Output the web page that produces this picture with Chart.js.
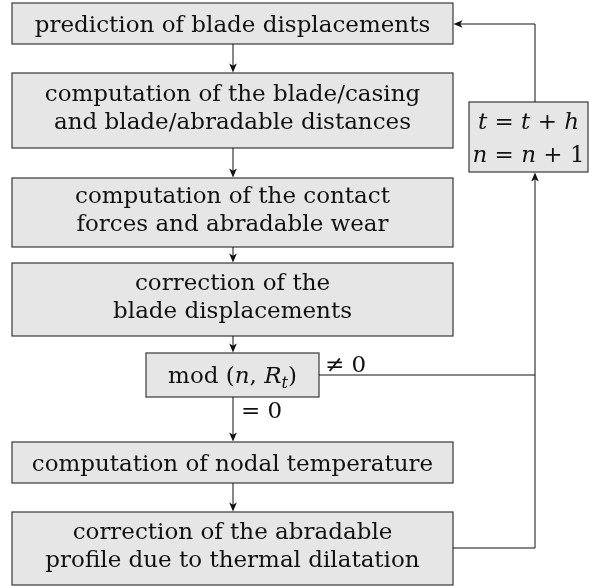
<!DOCTYPE html>
<html>
<head>
<meta charset="utf-8">
<script src="https://cdn.jsdelivr.net/npm/chart.js@4.4.0/dist/chart.umd.min.js"></script>
<style>
  html, body { margin: 0; padding: 0; background: #fff; }
  canvas { display: block; }
</style>
</head>
<body>
<canvas id="flow" width="592" height="586"></canvas>
<script>
// Step texts of the main column (top to bottom)
const stepLines = [
  ['prediction of blade displacements'],
  ['computation of the blade/casing', 'and blade/abradable distances'],
  ['computation of the contact', 'forces and abradable wear'],
  ['correction of the', 'blade displacements'],
  null, // modulo test, drawn as math
  ['computation of nodal temperature'],
  ['correction of the abradable', 'profile due to thermal dilatation']
];

// Box geometry in chart units (x left/right, y top/bottom)
const boxLeft   = [12, 12, 12, 12, 146, 12, 12];
const boxRight  = [453, 453, 453, 453, 319, 453, 453];
const boxTop    = [3, 73, 178, 263, 353, 442, 512];
const boxBottom = [44, 148, 247, 336, 397, 483, 585];

// Side box (time step update)
const sideBox = { left: 469, right: 588, top: 102, bottom: 172 };
const loopX = 535;
const mainX = 233;

const FONT = '"DejaVu Serif", "Liberation Serif", serif';
const FONT_SIZE = 23;
const LINE_GAP = 28;
const FILL = 'rgb(230,230,230)';
const EDGE = 'rgb(55,55,55)';

// math runs: [text, italic, subscript]
const modRuns = [['mod (', false], ['n', true], [', ', false], ['R', true], ['t', true, true], [')', false]];
const sideRuns1 = [['t', true], [' = ', false], ['t', true], [' + ', false], ['h', true]];
const sideRuns2 = [['n', true], [' = ', false], ['n', true], [' + ', false], ['1', false]];

function runFont(r, size) {
  const s = r[2] ? size * 0.7 : size;
  return (r[1] ? 'italic ' : '') + s + 'px ' + FONT;
}

function drawRuns(ctx, runs, cx, cy, size) {
  let w = 0;
  runs.forEach(r => { ctx.font = runFont(r, size); w += ctx.measureText(r[0]).width; });
  let x = cx - w / 2;
  ctx.textAlign = 'left';
  ctx.textBaseline = 'alphabetic';
  const base = cy + size * 0.35;
  runs.forEach(r => {
    ctx.font = runFont(r, size);
    ctx.fillText(r[0], x, r[2] ? base + size * 0.22 : base);
    x += ctx.measureText(r[0]).width;
  });
}

function arrowHead(ctx, x, y, dir) {
  // dir: 'down', 'up', 'left'
  const L = 9, H = 3.8;
  ctx.beginPath();
  if (dir === 'down') { ctx.moveTo(x, y); ctx.lineTo(x - H, y - L); ctx.lineTo(x, y - L * 0.75); ctx.lineTo(x + H, y - L); }
  if (dir === 'up')   { ctx.moveTo(x, y); ctx.lineTo(x - H, y + L); ctx.lineTo(x, y + L * 0.75); ctx.lineTo(x + H, y + L); }
  if (dir === 'left') { ctx.moveTo(x, y); ctx.lineTo(x + L, y - H); ctx.lineTo(x + L * 0.75, y); ctx.lineTo(x + L, y + H); }
  ctx.closePath();
  ctx.fill();
}

const flowPlugin = {
  id: 'flowPlugin',
  afterDatasetsDraw(chart) {
    const ctx = chart.ctx;
    const sx = v => chart.scales.x.getPixelForValue(v);
    const sy = v => chart.scales.y.getPixelForValue(v);
    ctx.save();

    // boxes
    const drawBox = (l, r, t, b) => {
      ctx.fillStyle = FILL;
      ctx.fillRect(sx(l), sy(t), sx(r) - sx(l), sy(b) - sy(t));
      ctx.strokeStyle = EDGE;
      ctx.lineWidth = 1.2;
      ctx.strokeRect(sx(l), sy(t), sx(r) - sx(l), sy(b) - sy(t));
    };
    stepLines.forEach((lines, i) => drawBox(boxLeft[i], boxRight[i], boxTop[i], boxBottom[i]));
    drawBox(sideBox.left, sideBox.right, sideBox.top, sideBox.bottom);

    // texts
    ctx.fillStyle = '#111';
    stepLines.forEach((lines, i) => {
      const cy = sy((boxTop[i] + boxBottom[i]) / 2);
      const cx = sx((boxLeft[i] + boxRight[i]) / 2);
      if (!lines) { drawRuns(ctx, modRuns, cx, cy, FONT_SIZE); return; }
      ctx.font = FONT_SIZE + 'px ' + FONT;
      ctx.textAlign = 'center';
      ctx.textBaseline = 'alphabetic';
      // multi-line blocks sit a little higher, like the LaTeX struts
      const shift = lines.length > 1 ? 4 : 8.5;
      lines.forEach((s, k) => {
        const off = (k - (lines.length - 1) / 2) * LINE_GAP;
        ctx.fillText(s, cx, cy + off + shift);
      });
    });
    const scx = sx((sideBox.left + sideBox.right) / 2);
    const scy = sy((sideBox.top + sideBox.bottom) / 2);
    drawRuns(ctx, sideRuns1, scx, scy - 16, FONT_SIZE);
    drawRuns(ctx, sideRuns2, scx, scy + 17, FONT_SIZE);

    // vertical arrows in main column
    ctx.strokeStyle = '#111';
    ctx.fillStyle = '#111';
    ctx.lineWidth = 1;
    for (let i = 0; i < stepLines.length - 1; i++) {
      const y0 = sy(boxBottom[i]), y1 = sy(boxTop[i + 1]);
      ctx.beginPath();
      ctx.moveTo(sx(mainX), y0);
      ctx.lineTo(sx(mainX), y1 - 4);
      ctx.stroke();
      arrowHead(ctx, sx(mainX), y1 - 0.5, 'down');
    }

    // loop from last box up to side box
    const lastY = 548;
    ctx.beginPath();
    ctx.moveTo(sx(boxRight[6]), sy(lastY));
    ctx.lineTo(sx(loopX), sy(lastY));
    ctx.lineTo(sx(loopX), sy(sideBox.bottom) + 4);
    ctx.stroke();
    arrowHead(ctx, sx(loopX), sy(sideBox.bottom) + 0.5, 'up');

    // modulo != 0 branch joins the loop line
    const modY = 375;
    ctx.beginPath();
    ctx.moveTo(sx(boxRight[4]), sy(modY));
    ctx.lineTo(sx(loopX), sy(modY));
    ctx.stroke();

    // side box back to first box
    const topY = 24;
    ctx.beginPath();
    ctx.moveTo(sx(loopX), sy(sideBox.top));
    ctx.lineTo(sx(loopX), sy(topY));
    ctx.lineTo(sx(boxRight[0]) + 4, sy(topY));
    ctx.stroke();
    arrowHead(ctx, sx(boxRight[0]) + 0.5, sy(topY), 'left');

    // branch labels
    ctx.font = FONT_SIZE + 'px ' + FONT;
    ctx.textAlign = 'left';
    ctx.textBaseline = 'alphabetic';
    ctx.fillText('\u2260 0', sx(325), sy(372));
    ctx.fillText('= 0', sx(241), sy(418));

    ctx.restore();
  }
};

new Chart(document.getElementById('flow'), {
  type: 'scatter',
  data: {
    datasets: [{
      data: stepLines.map((s, i) => ({ x: (boxLeft[i] + boxRight[i]) / 2, y: (boxTop[i] + boxBottom[i]) / 2 })),
      pointRadius: 0
    }]
  },
  options: {
    responsive: false,
    animation: false,
    layout: { padding: 0 },
    plugins: { legend: { display: false }, tooltip: { enabled: false } },
    scales: {
      x: { type: 'linear', min: 0, max: 592, display: false },
      y: { type: 'linear', min: 0, max: 586, reverse: true, display: false }
    }
  },
  plugins: [flowPlugin]
});
</script>
</body>
</html>
